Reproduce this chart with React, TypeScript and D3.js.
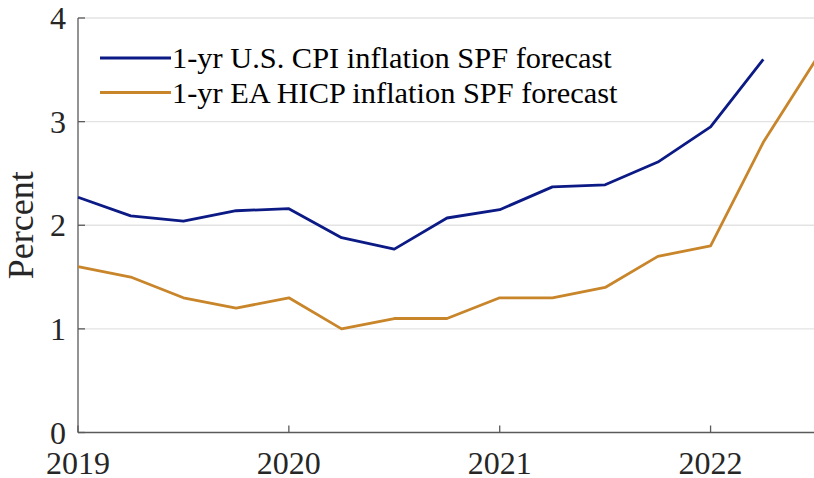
import React, { useRef, useEffect } from "react";
import * as d3 from "d3";

// quarterly dates (fractional year)
const quarters = [
  2019, 2019.25, 2019.5, 2019.75, 2020, 2020.25, 2020.5, 2020.75,
  2021, 2021.25, 2021.5, 2021.75, 2022, 2022.25, 2022.5,
];

// 1-yr ahead SPF inflation forecasts, percent
const usCpi = [
  2.27, 2.09, 2.04, 2.14, 2.16, 1.88, 1.77, 2.07, 2.15, 2.37, 2.39, 2.61,
  2.95, 3.6,
];
const eaHicp = [
  1.6, 1.5, 1.3, 1.2, 1.3, 1.0, 1.1, 1.1, 1.3, 1.3, 1.4, 1.7, 1.8, 2.8, 3.6,
];

const seriesNames = [
  "1-yr U.S. CPI inflation SPF forecast",
  "1-yr EA HICP inflation SPF forecast",
];
const seriesColors = ["#0c1a85", "#c8852a"];

const yTicks = [0, 1, 2, 3, 4];
const xTicks = [2019, 2020, 2021, 2022];

const App = () => {
  const svgRef = useRef(null);

  useEffect(() => {
    const width = 814;
    const height = 478;
    const margin = { top: 18, right: -2, bottom: 45.5, left: 78 };
    const font = "'Liberation Serif', 'Times New Roman', serif";

    const svg = d3.select(svgRef.current);
    svg.selectAll("*").remove();
    svg
      .attr("width", width)
      .attr("height", height)
      .style("background", "#fff")
      .style("display", "block");

    const x = d3
      .scaleLinear()
      .domain([2019, 2022.5])
      .range([margin.left, width - margin.right]);

    const y = d3
      .scaleLinear()
      .domain([0, 4])
      .range([height - margin.bottom, margin.top]);

    // grid lines
    svg
      .append("g")
      .selectAll("line")
      .data(yTicks.filter((d) => d > 0))
      .enter()
      .append("line")
      .attr("x1", margin.left)
      .attr("x2", width)
      .attr("y1", (d) => y(d))
      .attr("y2", (d) => y(d))
      .attr("stroke", "#e3e3e3")
      .attr("stroke-width", 1.3);

    // axes
    const axisColor = "#5a5a5a";
    svg
      .append("line")
      .attr("x1", margin.left)
      .attr("x2", margin.left)
      .attr("y1", y(4))
      .attr("y2", y(0))
      .attr("stroke", axisColor)
      .attr("stroke-width", 1.3);
    svg
      .append("line")
      .attr("x1", margin.left)
      .attr("x2", width)
      .attr("y1", y(0))
      .attr("y2", y(0))
      .attr("stroke", axisColor)
      .attr("stroke-width", 1.3);

    // y ticks (inward)
    svg
      .append("g")
      .selectAll("line")
      .data(yTicks)
      .enter()
      .append("line")
      .attr("x1", margin.left)
      .attr("x2", margin.left + 7)
      .attr("y1", (d) => y(d))
      .attr("y2", (d) => y(d))
      .attr("stroke", axisColor)
      .attr("stroke-width", 1.3);

    svg
      .append("g")
      .selectAll("text")
      .data(yTicks)
      .enter()
      .append("text")
      .attr("x", margin.left - 12)
      .attr("y", (d) => y(d))
      .attr("dy", "0.35em")
      .attr("text-anchor", "end")
      .style("font-family", font)
      .style("font-size", "32px")
      .style("fill", "#262626")
      .text((d) => d);

    // x ticks (inward)
    svg
      .append("g")
      .selectAll("line")
      .data(xTicks)
      .enter()
      .append("line")
      .attr("x1", (d) => x(d))
      .attr("x2", (d) => x(d))
      .attr("y1", y(0))
      .attr("y2", y(0) - 7)
      .attr("stroke", axisColor)
      .attr("stroke-width", 1.3);

    svg
      .append("g")
      .selectAll("text")
      .data(xTicks)
      .enter()
      .append("text")
      .attr("x", (d) => x(d))
      .attr("y", 474)
      .attr("text-anchor", "middle")
      .style("font-family", font)
      .style("font-size", "32px")
      .style("fill", "#262626")
      .text((d) => d);

    // y label
    svg
      .append("text")
      .attr("transform", `translate(33,${(y(0) + y(4)) / 2}) rotate(-90)`)
      .attr("text-anchor", "middle")
      .style("font-family", font)
      .style("font-size", "36px")
      .style("fill", "#262626")
      .text("Percent");

    // lines
    const line = d3
      .line()
      .x((d) => x(d[0]))
      .y((d) => y(d[1]));

    [usCpi, eaHicp].forEach((vals, i) => {
      svg
        .append("path")
        .datum(vals.map((v, j) => [quarters[j], v]))
        .attr("d", line)
        .attr("fill", "none")
        .attr("stroke", seriesColors[i])
        .attr("stroke-width", 2.8)
        .attr("stroke-linejoin", "round");
    });

    // legend
    const legend = svg.append("g");
    seriesNames.forEach((name, i) => {
      const ly = 58 + i * 34.5;
      legend
        .append("line")
        .attr("x1", 100)
        .attr("x2", 171)
        .attr("y1", ly)
        .attr("y2", ly)
        .attr("stroke", seriesColors[i])
        .attr("stroke-width", 2.8);
      legend
        .append("text")
        .attr("x", 172)
        .attr("y", ly + 10)
        .style("font-family", font)
        .style("font-size", "30.4px")
        .style("fill", "#000")
        .text(name);
    });
  }, []);

  return (
    <div style={{ position: "fixed", left: 0, top: 0 }}>
      <svg ref={svgRef}></svg>
    </div>
  );
};

export default App;
